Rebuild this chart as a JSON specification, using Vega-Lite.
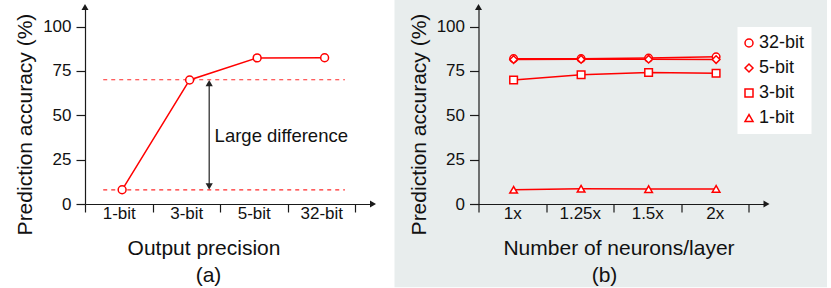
{
  "$schema": "https://vega.github.io/schema/vega-lite/v6.json",
  "background": "white",
  "padding": {"left": 14, "top": 0, "right": 0, "bottom": 0},
  "autosize": {"type": "pad"},
  "bounds": "flush",
  "spacing": 105.5,
  "resolve": {"legend": {"shape": "independent"}, "scale": {"shape": "independent"}},
  "config": {
    "font": "Liberation Sans",
    "view": {"stroke": null},
    "axis": {
      "domainColor": "#1a1a1a", "tickColor": "#1a1a1a", "labelColor": "#111111", "titleColor": "#111111",
      "labelFont": "Liberation Sans", "titleFont": "Liberation Sans",
      "labelFontSize": 17, "titleFontSize": 21, "titleFontWeight": "normal",
      "grid": false, "domainWidth": 1.2, "tickWidth": 1.2
    }
  },
  "datasets": {
    "precision": [
      {"precision": "1-bit", "accuracy": 8.0},
      {"precision": "3-bit", "accuracy": 69.9},
      {"precision": "5-bit", "accuracy": 82.3},
      {"precision": "32-bit", "accuracy": 82.4}
    ],
    "neurons": [
      {"neurons": "1x", "series": "32-bit", "accuracy": 81.9},
      {"neurons": "1.25x", "series": "32-bit", "accuracy": 81.9},
      {"neurons": "1.5x", "series": "32-bit", "accuracy": 82.2},
      {"neurons": "2x", "series": "32-bit", "accuracy": 82.9},
      {"neurons": "1x", "series": "5-bit", "accuracy": 81.4},
      {"neurons": "1.25x", "series": "5-bit", "accuracy": 81.5},
      {"neurons": "1.5x", "series": "5-bit", "accuracy": 81.6},
      {"neurons": "2x", "series": "5-bit", "accuracy": 81.4},
      {"neurons": "1x", "series": "3-bit", "accuracy": 69.9},
      {"neurons": "1.25x", "series": "3-bit", "accuracy": 72.8},
      {"neurons": "1.5x", "series": "3-bit", "accuracy": 74.1},
      {"neurons": "2x", "series": "3-bit", "accuracy": 73.7},
      {"neurons": "1x", "series": "1-bit", "accuracy": 8.0},
      {"neurons": "1.25x", "series": "1-bit", "accuracy": 8.6},
      {"neurons": "1.5x", "series": "1-bit", "accuracy": 8.4},
      {"neurons": "2x", "series": "1-bit", "accuracy": 8.5}
    ]
  },
  "hconcat": [
    {
      "width": 288,
      "height": 197,
      "layer": [
        {
          "data": {"values": [{"level": 70}, {"level": 8}]},
          "mark": {"type": "rule", "color": "#ff2a2a", "strokeWidth": 1.2, "strokeDash": [4, 4]},
          "encoding": {
            "x": {"datum": "1-bit", "type": "nominal", "bandPosition": 0.27, "title": "Output precision"},
            "x2": {"datum": "32-bit", "bandPosition": 0.85},
            "y": {"field": "level", "type": "quantitative", "title": "Prediction accuracy (%)"}
          }
        },
        {
          "data": {"values": [{}]},
          "mark": {"type": "rule", "color": "#333333", "strokeWidth": 1.3},
          "encoding": {
            "x": {"datum": "3-bit", "type": "nominal", "bandPosition": 0.84, "title": "Output precision"},
            "y": {"datum": 9.5, "type": "quantitative", "title": "Prediction accuracy (%)"},
            "y2": {"datum": 68.5}
          }
        },
        {
          "data": {"values": [{}]},
          "mark": {"type": "point", "shape": "triangle-up", "filled": true, "color": "#222222", "size": 52, "opacity": 1},
          "encoding": {
            "x": {"datum": "3-bit", "type": "nominal", "bandPosition": 0.84, "title": "Output precision"},
            "y": {"datum": 68.1, "type": "quantitative", "title": "Prediction accuracy (%)"}
          }
        },
        {
          "data": {"values": [{}]},
          "mark": {"type": "point", "shape": "triangle-down", "filled": true, "color": "#222222", "size": 52, "opacity": 1},
          "encoding": {
            "x": {"datum": "3-bit", "type": "nominal", "bandPosition": 0.84, "title": "Output precision"},
            "y": {"datum": 9.9, "type": "quantitative", "title": "Prediction accuracy (%)"}
          }
        },
        {
          "data": {"values": [{"label": "Large difference"}]},
          "mark": {"type": "text", "align": "left", "baseline": "middle", "fontSize": 18.5, "color": "#111111", "font": "Liberation Sans"},
          "encoding": {
            "x": {"datum": "3-bit", "type": "nominal", "bandPosition": 0.92, "title": "Output precision"},
            "y": {"datum": 38.3, "type": "quantitative", "title": "Prediction accuracy (%)"},
            "text": {"field": "label"}
          }
        },
        {
          "data": {"name": "precision"},
          "mark": {"type": "line", "color": "#ff0000", "strokeWidth": 1.5},
          "encoding": {
            "x": {
              "field": "precision", "type": "nominal", "bandPosition": 0.55, "sort": null, "title": "Output precision",
              "scale": {"type": "band", "domain": ["1-bit", "3-bit", "5-bit", "32-bit"], "paddingInner": 0, "paddingOuter": 0.1333, "align": 0},
              "axis": {"zindex": 1, "tickBand": "extent", "tickSize": 8, "labelPadding": 1.5, "labelAngle": 0, "labelAlign": "center", "labelOffset": 0, "labelFlush": false, "titleX": 118.5, "titleY": 50.7, "titleBaseline": "alphabetic", "titleAlign": "center", "titleAnchor": null}
            },
            "y": {
              "field": "accuracy", "type": "quantitative", "title": "Prediction accuracy (%)",
              "scale": {"domain": [0, 111], "nice": false},
              "axis": {"zindex": 1, "values": [0, 25, 50, 75, 100], "tickSize": 9, "labelPadding": 5, "titleX": -53.5, "titleY": 117, "titleBaseline": "alphabetic", "titleAlign": "center", "titleAngle": -90}
            }
          }
        },
        {
          "data": {"name": "precision"},
          "mark": {"type": "point", "filled": false, "fill": "white", "fillOpacity": 1, "color": "#ff0000", "size": 62, "strokeWidth": 1.5, "opacity": 1},
          "encoding": {
            "x": {"field": "precision", "type": "nominal", "bandPosition": 0.55, "sort": null, "title": "Output precision"},
            "y": {"field": "accuracy", "type": "quantitative", "title": "Prediction accuracy (%)"}
          }
        },
        {
          "data": {"values": [{}]},
          "mark": {"type": "point", "shape": "triangle-up", "filled": true, "color": "#1a1a1a", "size": 49, "opacity": 1},
          "encoding": {
            "x": {"datum": "1-bit", "type": "nominal", "bandPosition": 0, "title": "Output precision"},
            "y": {"datum": 111, "type": "quantitative", "title": "Prediction accuracy (%)"}
          }
        },
        {
          "data": {"values": [{}]},
          "mark": {"type": "point", "shape": "triangle-right", "filled": true, "color": "#1a1a1a", "size": 49, "opacity": 1},
          "encoding": {
            "x": {"value": "width"},
            "y": {"datum": 0, "type": "quantitative", "title": "Prediction accuracy (%)"}
          }
        },
        {
          "data": {"values": [{"caption": "(a)"}]},
          "mark": {"type": "text", "align": "center", "baseline": "alphabetic", "fontSize": 21, "color": "#111111", "font": "Liberation Sans"},
          "encoding": {
            "x": {"datum": "3-bit", "type": "nominal", "bandPosition": 0.83, "title": "Output precision"},
            "y": {"datum": -43.8, "type": "quantitative", "title": "Prediction accuracy (%)"},
            "text": {"field": "caption"}
          }
        }
      ]
    },
    {
      "width": 288,
      "height": 197,
      "layer": [
        {
          "data": {"values": [{}]},
          "mark": {"type": "rect", "color": "#e8eded"},
          "encoding": {
            "x": {"datum": "1x", "type": "nominal", "bandPosition": -1.2444, "title": "Number of neurons/layer"},
            "x2": {"datum": "2x", "bandPosition": 2.163},
            "y": {"datum": 114.94, "type": "quantitative", "title": "Prediction accuracy (%)"},
            "y2": {"datum": -46.9}
          }
        },
        {
          "data": {"name": "neurons"},
          "mark": {"type": "line", "color": "#ff0000", "strokeWidth": 1.5},
          "encoding": {
            "x": {
              "field": "neurons", "type": "nominal", "bandPosition": 0.52, "sort": null, "title": "Number of neurons/layer",
              "scale": {"type": "band", "domain": ["1x", "1.25x", "1.5x", "2x"], "paddingInner": 0, "paddingOuter": 0.1333, "align": 0},
              "axis": {"zindex": 1, "tickBand": "extent", "tickSize": 8, "labelPadding": 1.5, "labelAngle": 0, "labelAlign": "center", "labelOffset": 0, "labelFlush": false, "titleX": 140, "titleY": 50.7, "titleBaseline": "alphabetic", "titleAlign": "center", "titleAnchor": null}
            },
            "y": {
              "field": "accuracy", "type": "quantitative", "title": "Prediction accuracy (%)",
              "scale": {"domain": [0, 111], "nice": false},
              "axis": {"zindex": 1, "values": [0, 25, 50, 75, 100], "tickSize": 9, "labelPadding": 5, "titleX": -53.5, "titleY": 117, "titleBaseline": "alphabetic", "titleAlign": "center", "titleAngle": -90}
            },
            "detail": {"field": "series", "type": "nominal"}
          }
        },
        {
          "data": {"name": "neurons"},
          "mark": {"type": "point", "filled": false, "fill": "white", "fillOpacity": 1, "color": "#ff0000", "size": 58, "strokeWidth": 1.5, "opacity": 1},
          "encoding": {
            "x": {"field": "neurons", "type": "nominal", "bandPosition": 0.52, "sort": null, "title": "Number of neurons/layer"},
            "y": {"field": "accuracy", "type": "quantitative", "title": "Prediction accuracy (%)"},
            "shape": {
              "field": "series", "type": "nominal",
              "scale": {"domain": ["32-bit", "5-bit", "3-bit", "1-bit"], "range": ["circle", "diamond", "square", "triangle-up"]},
              "legend": {
                "orient": "none", "legendX": 259, "legendY": 20, "title": null, "fillColor": "white", "padding": 7,
                "labelFontSize": 18, "labelFont": "Liberation Sans", "labelColor": "#111111",
                "symbolSize": 64, "symbolOffset": -4.5, "labelOffset": 1, "rowPadding": 7,
                "encode": {"symbols": {"update": {"stroke": {"value": "#ff0000"}, "strokeWidth": {"value": 1.5}, "fill": {"value": "white"}, "opacity": {"value": 1}, "fillOpacity": {"value": 1}, "strokeOpacity": {"value": 1}}}}
              }
            }
          }
        },
        {
          "data": {"values": [{}]},
          "mark": {"type": "point", "shape": "triangle-up", "filled": true, "color": "#1a1a1a", "size": 49, "opacity": 1},
          "encoding": {
            "x": {"datum": "1x", "type": "nominal", "bandPosition": 0, "title": "Number of neurons/layer"},
            "y": {"datum": 111, "type": "quantitative", "title": "Prediction accuracy (%)"}
          }
        },
        {
          "data": {"values": [{}]},
          "mark": {"type": "point", "shape": "triangle-right", "filled": true, "color": "#1a1a1a", "size": 49, "opacity": 1},
          "encoding": {
            "x": {"value": "width"},
            "y": {"datum": 0, "type": "quantitative", "title": "Prediction accuracy (%)"}
          }
        },
        {
          "data": {"values": [{"caption": "(b)"}]},
          "mark": {"type": "text", "align": "center", "baseline": "alphabetic", "fontSize": 21, "color": "#111111", "font": "Liberation Sans"},
          "encoding": {
            "x": {"datum": "1.25x", "type": "nominal", "bandPosition": 0.867, "title": "Number of neurons/layer"},
            "y": {"datum": -43.8, "type": "quantitative", "title": "Prediction accuracy (%)"},
            "text": {"field": "caption"}
          }
        }
      ]
    }
  ]
}
